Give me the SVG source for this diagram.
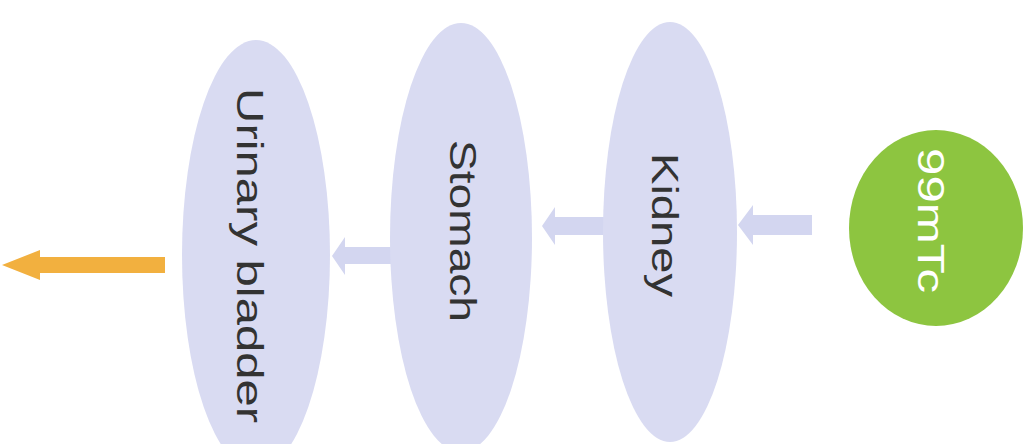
<svg xmlns="http://www.w3.org/2000/svg" width="1033" height="444" viewBox="0 0 1033 444">
<style>
.organ{fill:#D9DBF2}
.flow{fill:#D3D6F0}
.lbl{font-family:"Liberation Sans",Arial,sans-serif;font-size:36px;fill:#333333}
.lblw{font-family:"Liberation Sans",Arial,sans-serif;font-size:37px;fill:#ffffff}
</style>
<rect width="1033" height="444" fill="#ffffff"/>
<g id="connectors">
<polygon points="2,265 40,250 40,257 165,257 165,273 40,273 40,280" fill="#F2B03F"/>
<polygon class="flow" points="332,256 345,237 345,247 395,247 395,264 345,264 345,275"/>
<polygon class="flow" points="542,226 555,207 555,217 606,217 606,235 555,235 555,245"/>
<polygon class="flow" points="738,225 753,205 753,215 812,215 812,235 753,235 753,245"/>
</g>
<g id="node-bladder">
<ellipse class="organ" cx="256" cy="255" rx="74" ry="215"/>
<text class="lbl" transform="translate(237,255.5) rotate(90)" text-anchor="middle" textLength="335" lengthAdjust="spacingAndGlyphs">Urinary bladder</text>
</g>
<g id="node-stomach">
<ellipse class="organ" cx="461" cy="237.5" rx="71" ry="214.5"/>
<text class="lbl" transform="translate(450,231) rotate(90)" text-anchor="middle" textLength="182" lengthAdjust="spacingAndGlyphs">Stomach</text>
</g>
<g id="node-kidney">
<ellipse class="organ" cx="670" cy="232" rx="67" ry="210"/>
<text class="lbl" transform="translate(652,225) rotate(90)" text-anchor="middle" textLength="144" lengthAdjust="spacingAndGlyphs">Kidney</text>
</g>
<g id="node-tc">
<ellipse cx="936" cy="228" rx="87" ry="98" fill="#8DC540"/>
<text class="lblw" transform="translate(918,220.5) rotate(90)" text-anchor="middle" textLength="145" lengthAdjust="spacingAndGlyphs">99mTc</text>
</g>
</svg>
